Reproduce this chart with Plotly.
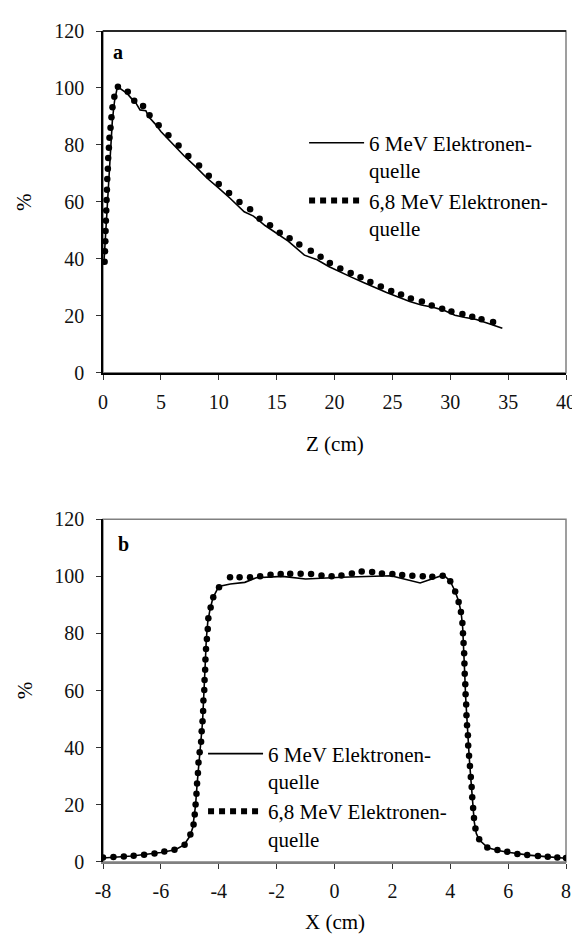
import plotly.graph_objects as go

# ---- Panel a: depth dose (Z in cm, %)
z_6 = [0.1, 0.2, 0.3, 0.4, 0.5, 0.6, 0.7, 0.8, 0.9, 1.0, 1.25, 1.7, 2.1, 2.5, 2.8, 3.2, 3.7, 3.95, 4.5,
       5.0, 6.0, 7.0, 8.0, 9.0, 10.0, 11.0, 12.2, 13.0, 14.0, 15.0, 16.0, 17.4, 18.5, 19.5, 20.5,
       21.5, 22.5, 23.5, 24.5, 25.5, 26.5, 27.5, 28.5, 29.4, 30.4, 31.3, 32.25, 33.3, 34.5]
v_6 = [40.0, 47.0, 55.0, 63.0, 70.0, 77.0, 83.0, 88.0, 92.0, 95.5, 100.5, 99.2, 98.0, 96.1, 95.0, 92.3, 92.0, 89.9, 87.4,
       84.7, 80.5, 76.2, 72.4, 68.3, 64.8, 61.2, 56.5, 55.0, 51.7, 48.8, 46.2, 41.3, 39.7, 37.3, 35.3,
       33.5, 31.7, 29.9, 28.2, 26.6, 25.0, 23.8, 23.0, 22.0, 20.2, 19.4, 18.7, 17.3, 15.6]

z_68 = [0.14, 0.17, 0.2, 0.22, 0.25, 0.28, 0.31, 0.34, 0.37, 0.42, 0.45, 0.51, 0.56, 0.65, 0.73, 0.82, 0.98, 1.29,
        2.14, 2.70, 3.46, 4.02, 4.81, 5.65, 6.53, 7.37, 8.30, 9.14, 10.0, 10.89, 11.79, 12.71, 13.53, 14.43,
        15.27, 16.12, 16.96, 17.95, 18.8, 19.6, 20.5, 21.4, 22.25, 23.1, 24.0, 24.9, 25.75, 26.6, 27.55,
        28.4, 29.3, 30.1, 31.05, 31.9, 32.7, 33.7]
v_68 = [39.0, 42.7, 46.2, 49.8, 53.4, 57.0, 60.7, 64.3, 68.0, 71.6, 75.4, 79.0, 82.5, 86.0, 89.7, 93.2, 96.9, 100.4,
        98.7, 95.5, 93.7, 90.4, 86.9, 83.4, 79.8, 76.1, 72.8, 69.2, 66.3, 63.1, 60.0, 57.4, 54.1, 51.8,
        49.2, 47.2, 45.0, 42.8, 40.7, 38.5, 36.6, 35.0, 33.5, 31.9, 30.3, 28.7, 27.5, 26.1, 25.0,
        23.6, 22.5, 21.5, 20.6, 19.65, 18.8, 17.8]

# ---- Panel b: lateral profile (X in cm, %)
x_6 = [-8.0, -7.0, -6.0, -5.5, -5.2, -5.0, -4.9, -4.85, -4.8, -4.75, -4.7, -4.62, -4.56, -4.52, -4.49, -4.46,
       -4.43, -4.38, -4.3, -4.2, -4.0, -3.6, -3.1, -2.7, -1.8, -1.0, 0.25, 1.95, 2.96, 3.77, 4.0, 4.17,
       4.3, 4.38, 4.43, 4.47, 4.5, 4.53, 4.57, 4.61, 4.66, 4.72, 4.78, 4.83, 4.9, 5.0, 5.3, 5.65, 6.0,
       6.7, 7.4, 8.0]
p_6 = [1.4, 2.1, 3.3, 4.3, 6.0, 9.0, 12.0, 16.0, 20.0, 27.0, 34.0, 42.0, 49.0, 56.0, 64.0, 71.0,
       78.0, 84.0, 88.5, 92.5, 96.5, 97.3, 97.9, 99.5, 100.0, 99.1, 99.7, 100.2, 97.7, 100.5, 98.3, 94.7,
       91.0, 87.0, 82.0, 75.0, 66.0, 58.0, 50.0, 43.0, 36.0, 28.0, 20.0, 14.0, 10.0, 7.8, 5.0, 4.0, 3.4,
       2.4, 1.8, 1.3]

x_68 = [-8.0, -7.64, -7.28, -6.94, -6.58, -6.22, -5.88, -5.53, -5.18, -4.98, -4.87, -4.83, -4.80, -4.77,
        -4.75, -4.72, -4.70, -4.66, -4.61, -4.59, -4.56, -4.54, -4.53, -4.50, -4.49, -4.47, -4.46, -4.44,
        -4.41, -4.38, -4.36, -4.28, -4.19, -3.99, -3.61, -3.28, -2.92, -2.57, -2.21, -1.86, -1.53, -1.17,
        -0.81, -0.45, -0.1, 0.24, 0.6, 0.94, 1.30, 1.64, 2.0, 2.34, 2.69, 3.05, 3.38, 3.74, 4.0, 4.17,
        4.29, 4.37, 4.42, 4.44, 4.46, 4.48, 4.49, 4.50, 4.52, 4.53, 4.55, 4.56, 4.58, 4.61, 4.62, 4.65,
        4.68, 4.71, 4.74, 4.76, 4.79, 4.82, 4.87, 5.0, 5.28, 5.63, 5.97, 6.32, 6.66, 7.03, 7.37, 7.7, 8.0]
p_68 = [1.6, 1.75, 1.9, 2.2, 2.5, 3.0, 3.7, 4.3, 6.0, 9.6, 13.1, 16.6, 20.1, 23.9,
        27.5, 31.2, 34.8, 38.4, 42.1, 45.8, 49.3, 52.9, 56.5, 60.2, 63.7, 67.3, 70.9, 74.6,
        78.1, 81.6, 85.3, 89.1, 92.7, 96.2, 99.7, 99.7, 99.7, 100.0, 100.6, 100.8, 100.9, 100.9,
        100.8, 100.3, 100.0, 100.3, 101.0, 101.7, 101.5, 101.0, 100.8, 100.5, 100.2, 100.0, 99.9, 100.2, 98.3, 94.7,
        91.0, 87.5, 83.7, 80.1, 76.7, 73.1, 69.5, 65.9, 62.2, 58.7, 55.1, 51.4, 47.9, 44.4, 40.8, 37.2,
        33.6, 29.8, 26.3, 22.7, 18.9, 15.4, 11.7, 8.0, 5.1, 4.2, 3.6, 2.8, 2.44, 2.1, 1.86, 1.6, 1.4]

name_6 = "6 MeV Elektronen-<br>quelle"
name_68 = "6,8 MeV Elektronen-<br>quelle"
x_ticks_b = [-8, -6, -4, -2, 0, 2, 4, 6, 8]
x_ticktext_b = ["-8", "-6", "-4", "-2", "0", "2", "4", "6", "8"]

FONT = "Liberation Serif, Times New Roman, serif"
W, H = 580, 936
ML, MR, MT, MB = 95, 13, 20, 82
PH = H - MT - MB


def py2paper(py):
    return (H - MB - py) / PH


def px2paper(px):
    return (px - ML) / (W - ML - MR)


fig = go.Figure()
mk = dict(color="black", size=6.5)
ln = dict(color="black", width=1.6)
proxy_ln = dict(color="black", width=6, dash="6px,5px")

# Panel a
fig.add_trace(go.Scatter(x=z_6, y=v_6, mode="lines", line=ln, name=name_6,
                         xaxis="x", yaxis="y", legend="legend"))
fig.add_trace(go.Scatter(x=z_68, y=v_68, mode="markers", marker=mk, showlegend=False,
                         xaxis="x", yaxis="y"))
fig.add_trace(go.Scatter(x=[None], y=[None], mode="lines", line=proxy_ln,
                         name=name_68, xaxis="x", yaxis="y", legend="legend"))
# Panel b
fig.add_trace(go.Scatter(x=x_6, y=p_6, mode="lines", line=ln, name=name_6,
                         xaxis="x2", yaxis="y2", legend="legend2"))
fig.add_trace(go.Scatter(x=x_68, y=p_68, mode="markers", marker=mk, showlegend=False,
                         xaxis="x2", yaxis="y2"))
fig.add_trace(go.Scatter(x=[None], y=[None], mode="lines", line=proxy_ln,
                         name=name_68, xaxis="x2", yaxis="y2", legend="legend2"))

tickfont = dict(family=FONT, size=20, color="#111")
common_x = dict(showgrid=False, zeroline=False, ticks="outside", ticklen=5, tickwidth=1.2,
                tickcolor="#333", tickfont=tickfont, showline=True, linewidth=1.5,
                ticklabelstandoff=5)
common_y = dict(showgrid=False, zeroline=False, ticks="outside", ticklen=5, tickwidth=1.2,
                tickcolor="#333", tickfont=tickfont, showline=True, linecolor="black", linewidth=1.5,
                range=[0, 120], dtick=20, tick0=0, ticklabelstandoff=8)

top_dom = [py2paper(363), 1.0]
bot_dom = [0.0, py2paper(510)]
legfont = dict(family=FONT, size=21, color="black")

fig.update_layout(
    width=W, height=H,
    margin=dict(l=ML, r=MR, t=MT, b=MB),
    paper_bgcolor="white", plot_bgcolor="white",
    font=dict(family=FONT, size=20, color="black"),
    xaxis=dict(common_x, range=[0, 40], dtick=5, tick0=0, linecolor="black", anchor="y"),
    yaxis=dict(common_y, domain=top_dom, anchor="x"),
    xaxis2=dict(common_x, range=[-8, 8], tickvals=x_ticks_b, ticktext=x_ticktext_b,
                linecolor="#808080", anchor="y2"),
    yaxis2=dict(common_y, domain=bot_dom, anchor="x2"),
    legend=dict(x=px2paper(300), y=py2paper(112), xanchor="left", yanchor="top",
                font=legfont, bgcolor="rgba(0,0,0,0)",
                itemwidth=55, valign="top", tracegroupgap=0),
    legend2=dict(x=px2paper(197), y=py2paper(725), xanchor="left", yanchor="top",
                 font=legfont, bgcolor="rgba(0,0,0,0)",
                 itemwidth=55, valign="top", tracegroupgap=0),
    showlegend=True,
)

# Plot frames (grey box, like the original)
for xr, yr in (("x domain", "y domain"), ("x2 domain", "y2 domain")):
    fig.add_shape(type="rect", xref=xr, yref=yr, x0=0, x1=1, y0=0, y1=1,
                  line=dict(color="#808080", width=1.5), layer="below")
fig.add_shape(type="line", xref="x domain", yref="y domain", x0=0, x1=1, y0=1, y1=1,
              line=dict(color="black", width=1.5), layer="below")

ann = [
    dict(text="<b>a</b>", x=px2paper(110), y=py2paper(41), size=20),
    dict(text="<b>b</b>", x=px2paper(116), y=py2paper(535), size=20),
    dict(text="Z (cm)", x=px2paper(331), y=py2paper(434), size=21),
    dict(text="X (cm)", x=px2paper(331), y=py2paper(914), size=21),
]
for a in ann:
    fig.add_annotation(text=a["text"], x=a["x"], y=a["y"], xref="paper", yref="paper",
                       xanchor="center", yanchor="middle", showarrow=False,
                       font=dict(family=FONT, size=a["size"], color="black"))
for yc in (192, 682):
    fig.add_annotation(text="%", x=px2paper(15), y=py2paper(yc), xref="paper", yref="paper",
                       xanchor="center", yanchor="middle", showarrow=False, textangle=-90,
                       font=dict(family=FONT, size=21, color="black"))

fig.write_html("out.html")
